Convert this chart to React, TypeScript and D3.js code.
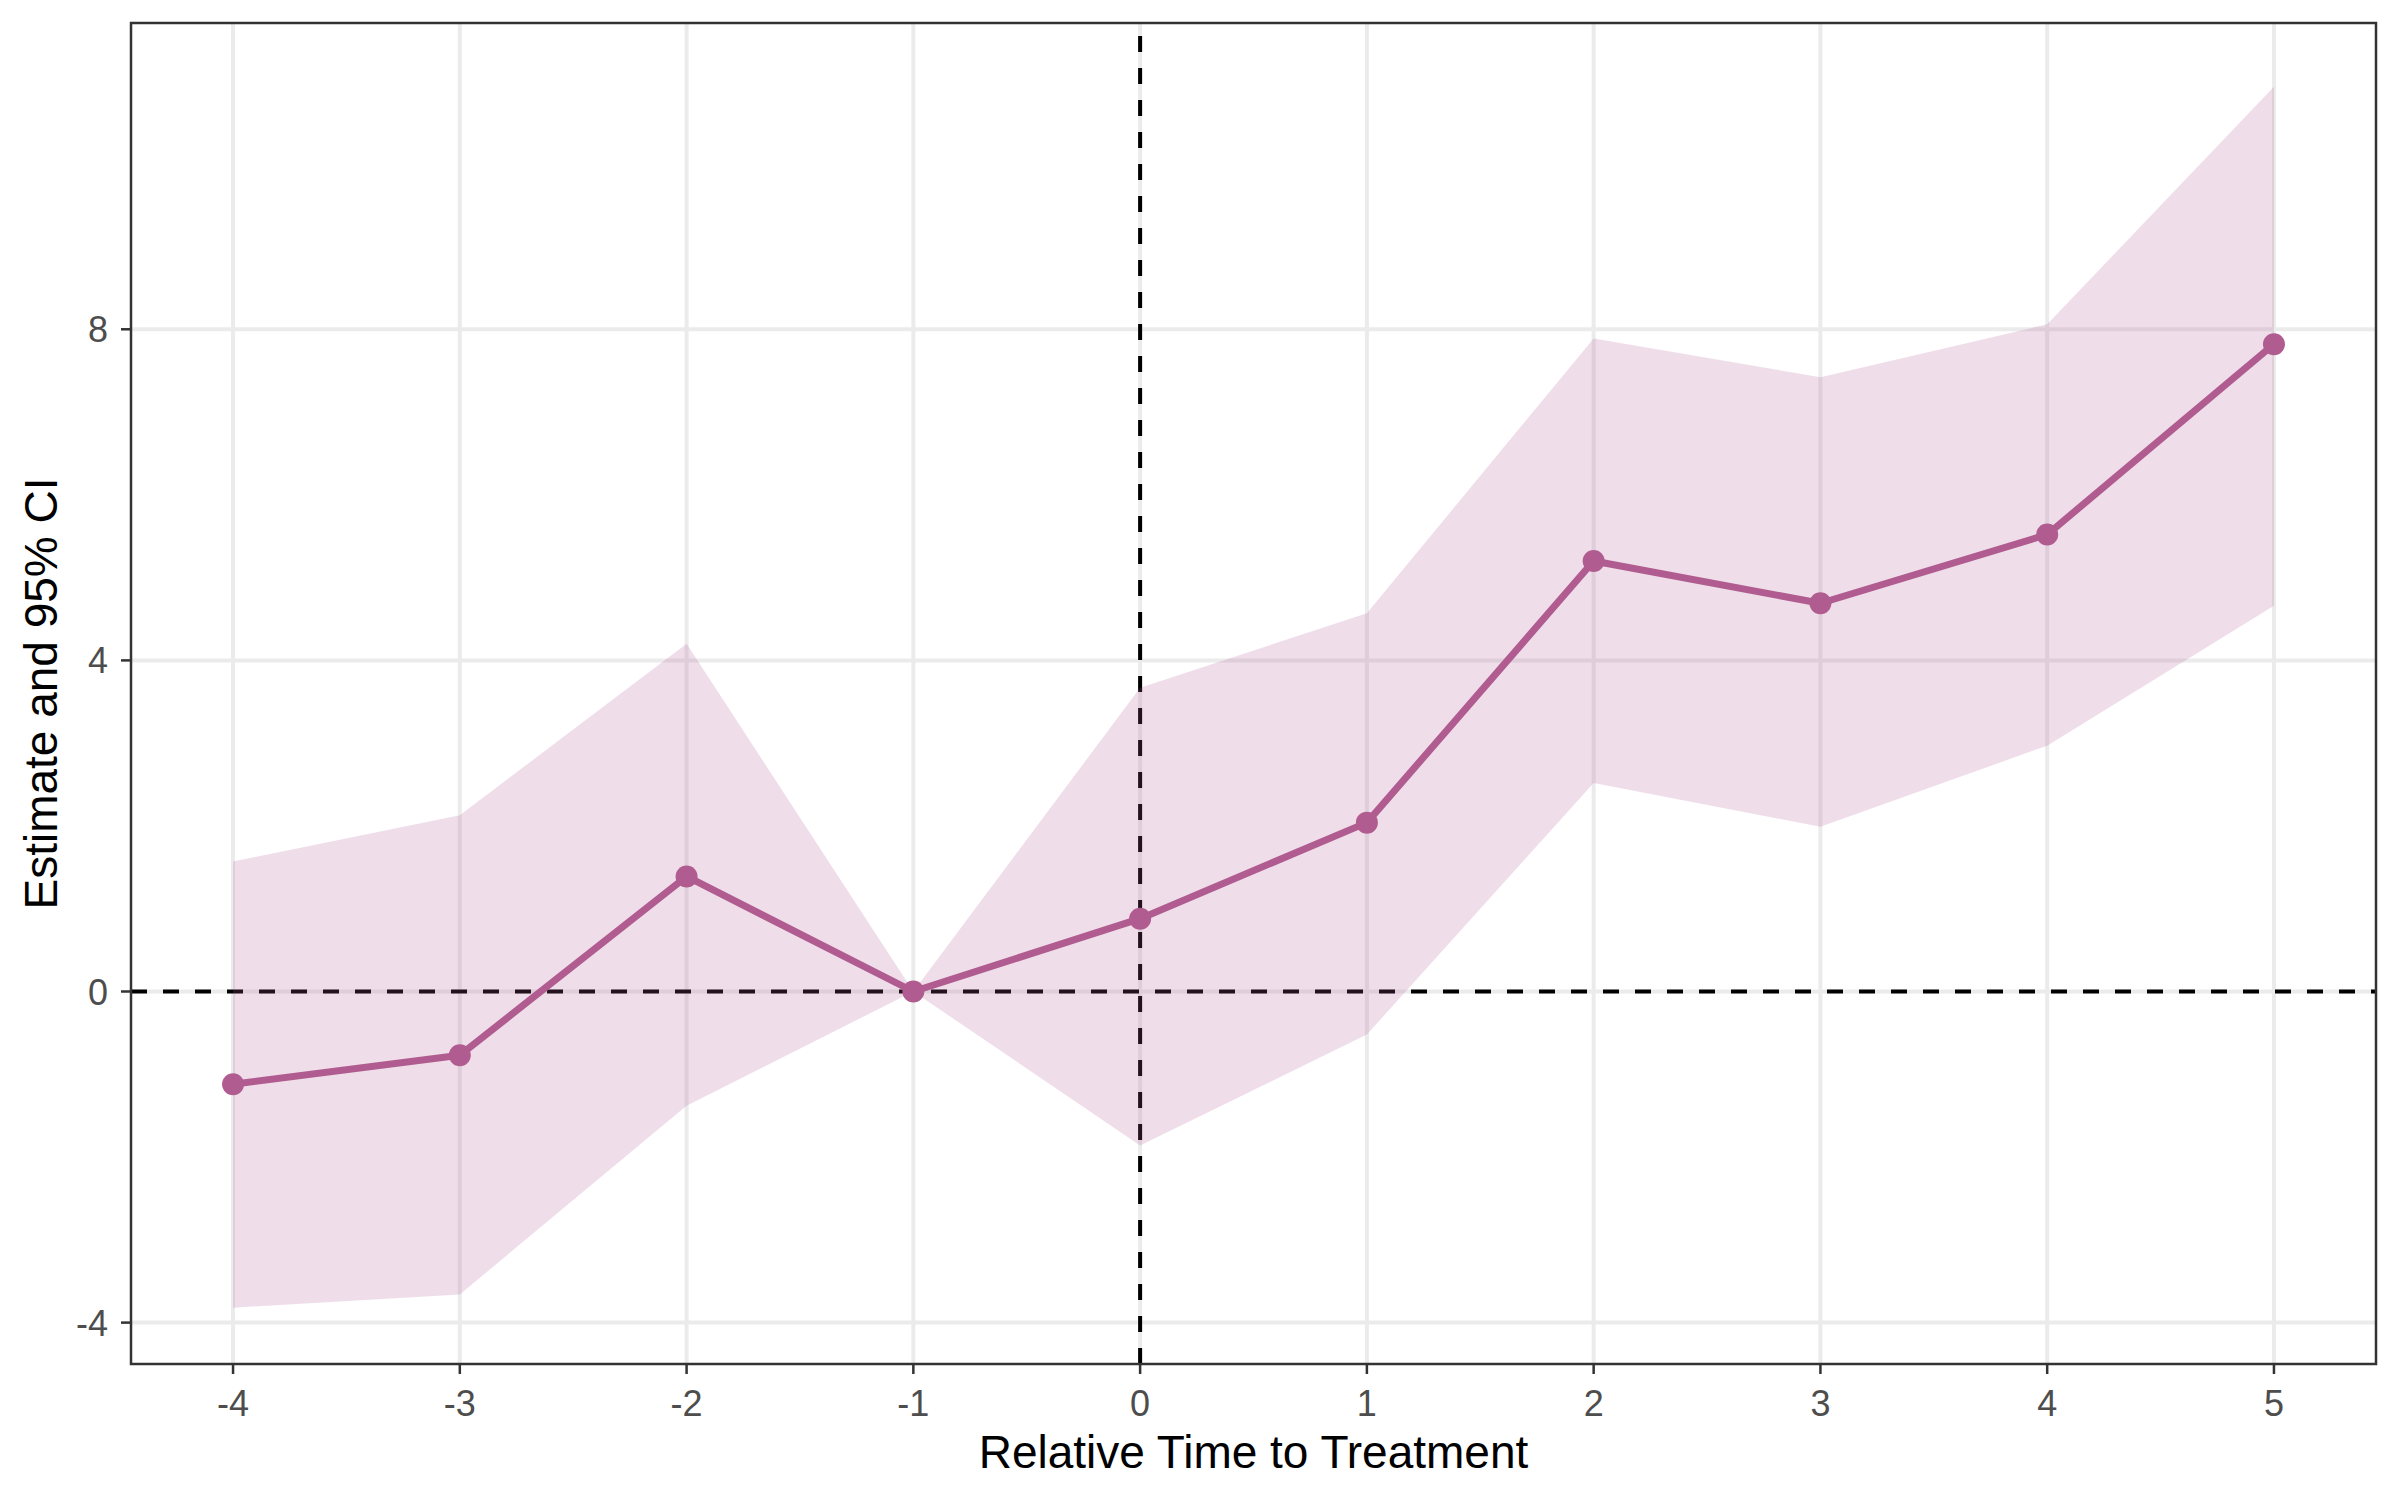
import { useRef, useEffect } from 'react';
import * as d3 from 'd3';

const relTime = [-4, -3, -2, -1, 0, 1, 2, 3, 4, 5];
const estimate = [-1.12, -0.77, 1.39, 0, 0.88, 2.04, 5.2, 4.69, 5.52, 7.82];
const ciLow = [-3.82, -3.66, -1.38, 0, -1.86, -0.52, 2.52, 1.99, 2.97, 4.66];
const ciHigh = [1.57, 2.13, 4.2, 0, 3.67, 4.57, 7.89, 7.42, 8.06, 10.93];
const yTicks = [-4, 0, 4, 8];

const WIDTH = 2400;
const HEIGHT = 1500;
const COLOR = '#B05C90';

export default function App() {
  const svgRef = useRef<SVGSVGElement>(null);

  useEffect(() => {
    const svg = d3.select(svgRef.current);
    svg.selectAll('*').remove();

    const panel = { left: 131, right: 2376, top: 23, bottom: 1364 };
    const font = "'Liberation Sans', Arial, sans-serif";

    const x = d3.scaleLinear().domain([-4.45, 5.45]).range([panel.left, panel.right]);
    const y = d3.scaleLinear().domain([-4.5, 11.7]).range([panel.bottom, panel.top]);

    const rows = relTime.map((t, i) => ({ t, est: estimate[i], lo: ciLow[i], hi: ciHigh[i] }));

    // background + grid
    svg.append('rect')
      .attr('width', WIDTH)
      .attr('height', HEIGHT)
      .attr('fill', '#FFFFFF');

    const g = svg.append('g');

    for (const t of yTicks) {
      g.append('line')
        .attr('x1', panel.left)
        .attr('x2', panel.right)
        .attr('y1', y(t))
        .attr('y2', y(t))
        .attr('stroke', '#EBEBEB')
        .attr('stroke-width', 4);
    }
    for (const t of relTime) {
      g.append('line')
        .attr('x1', x(t))
        .attr('x2', x(t))
        .attr('y1', panel.top)
        .attr('y2', panel.bottom)
        .attr('stroke', '#EBEBEB')
        .attr('stroke-width', 4);
    }

    // reference lines (drawn under the ribbon)
    g.append('line')
      .attr('x1', panel.left)
      .attr('x2', panel.right)
      .attr('y1', y(0))
      .attr('y2', y(0))
      .attr('stroke', '#000000')
      .attr('stroke-width', 4)
      .attr('stroke-dasharray', '16,16');

    g.append('line')
      .attr('x1', x(0))
      .attr('x2', x(0))
      .attr('y1', panel.bottom)
      .attr('y2', panel.top)
      .attr('stroke', '#000000')
      .attr('stroke-width', 4)
      .attr('stroke-dasharray', '16,16');

    // CI ribbon
    const area = d3.area<typeof rows[number]>()
      .x((d) => x(d.t))
      .y0((d) => y(d.lo))
      .y1((d) => y(d.hi));

    g.append('path')
      .datum(rows)
      .attr('d', area)
      .attr('fill', COLOR)
      .attr('fill-opacity', 0.2);

    // estimate line + points
    const line = d3.line<typeof rows[number]>()
      .x((d) => x(d.t))
      .y((d) => y(d.est));

    g.append('path')
      .datum(rows)
      .attr('d', line)
      .attr('fill', 'none')
      .attr('stroke', COLOR)
      .attr('stroke-width', 7)
      .attr('stroke-linejoin', 'round');

    g.selectAll('circle')
      .data(rows)
      .join('circle')
      .attr('cx', (d) => x(d.t))
      .attr('cy', (d) => y(d.est))
      .attr('r', 11)
      .attr('fill', COLOR);

    // panel border
    svg.append('rect')
      .attr('x', panel.left)
      .attr('y', panel.top)
      .attr('width', panel.right - panel.left)
      .attr('height', panel.bottom - panel.top)
      .attr('fill', 'none')
      .attr('stroke', '#333333')
      .attr('stroke-width', 2.5);

    // x axis ticks
    for (const t of relTime) {
      svg.append('line')
        .attr('x1', x(t))
        .attr('x2', x(t))
        .attr('y1', panel.bottom)
        .attr('y2', panel.bottom + 10)
        .attr('stroke', '#333333')
        .attr('stroke-width', 2.5);

      svg.append('text')
        .attr('x', x(t))
        .attr('y', 1416)
        .attr('text-anchor', 'middle')
        .attr('fill', '#4D4D4D')
        .attr('font-size', '36px')
        .attr('font-family', font)
        .text(String(t));
    }

    // y axis ticks
    for (const t of yTicks) {
      svg.append('line')
        .attr('x1', panel.left - 10)
        .attr('x2', panel.left)
        .attr('y1', y(t))
        .attr('y2', y(t))
        .attr('stroke', '#333333')
        .attr('stroke-width', 2.5);

      svg.append('text')
        .attr('x', 108)
        .attr('y', y(t) + 13)
        .attr('text-anchor', 'end')
        .attr('fill', '#4D4D4D')
        .attr('font-size', '36px')
        .attr('font-family', font)
        .text(String(t));
    }

    // axis titles
    svg.append('text')
      .attr('x', (panel.left + panel.right) / 2)
      .attr('y', 1468)
      .attr('text-anchor', 'middle')
      .attr('fill', '#000000')
      .attr('font-size', '46px')
      .attr('font-family', font)
      .text('Relative Time to Treatment');

    svg.append('text')
      .attr('transform', `translate(57,${(panel.top + panel.bottom) / 2}) rotate(-90)`)
      .attr('text-anchor', 'middle')
      .attr('fill', '#000000')
      .attr('font-size', '46px')
      .attr('font-family', font)
      .text('Estimate and 95% CI');
  }, []);

  return (
    <svg
      ref={svgRef}
      width={WIDTH}
      height={HEIGHT}
      viewBox={`0 0 ${WIDTH} ${HEIGHT}`}
      style={{ position: 'absolute', left: 0, top: 0, display: 'block' }}
    />
  );
}
